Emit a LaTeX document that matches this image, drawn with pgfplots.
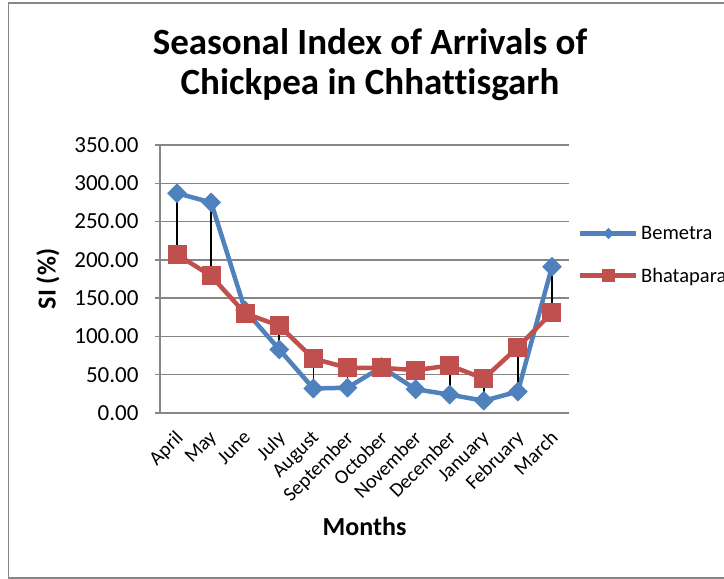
\documentclass[border=0pt]{standalone}
\usepackage{pgfplots}
\pgfplotsset{compat=1.18}
\usepackage{pgfplotstable}
\usepackage{fontspec}
\setmainfont{Carlito}[Ligatures={NoCommon}]
\definecolor{bblue}{RGB}{79,129,189}
\definecolor{bred}{RGB}{192,80,77}
\definecolor{ggrid}{RGB}{134,134,134}
\pgfplotstableread{
x B H
0 287 207
1 275 179
2 134 130
3 83 114
4 32 71
5 33 59
6 60 59
7 31 56
8 24 62
9 16 45
10 28 86
11 191 131
}\data
\begin{document}
\begin{tikzpicture}[x=1pt,y=1pt]
\clip (0,0) rectangle (724,579);
\fill[white] (0,0) rectangle (724,579);
\draw[ggrid, line width=1.5pt] (8.5,1) rectangle (760,576);
\node[font=\fontsize{37}{40}\selectfont\bfseries, align=center] at (370,514) {Seasonal Index of Arrivals of\\Chickpea in Chhattisgarh};
\begin{axis}[
  at={(160pt,166pt)}, anchor=south west,
  width=409pt, height=268pt, scale only axis,
  xmin=-0.5, xmax=11.5, ymin=0, ymax=350,
  xtick={0,...,11},
  xticklabels={April,May,June,July,August,September,October,November,December,January,February,March},
  ytick={0,50,...,350},
  axis x line*=bottom, axis y line*=left,
  axis line style={ggrid, line width=1.3pt, -},
  ymajorgrids, grid style={ggrid, line width=1.3pt},
  x tick style={draw=none},
  y tick style={ggrid, line width=1.3pt},
  tick align=outside, major tick length=5pt,
  /pgf/number format/assume math mode=true,
  yticklabel={\pgfmathprintnumber[fixed, fixed zerofill, precision=2]{\tick}},
  yticklabel style={font=\fontsize{23}{27}\selectfont, xshift=-13pt},
  xticklabel style={font=\fontsize{20}{24}\selectfont, rotate=45, anchor=north east, inner sep=1pt, yshift=-5pt, xshift=-9pt},
  xlabel={Months}, ylabel={SI (\%)},
  xlabel style={font=\fontsize{26}{30}\selectfont\bfseries, at={(axis description cs:0.5,-0.4216)}, anchor=center},
  ylabel style={font=\fontsize{26}{30}\selectfont\bfseries, at={(axis description cs:-0.274,0.5)}, anchor=center},
  legend style={at={(axis description cs:1.022,0.59)}, anchor=west, draw=none, fill=none,
    font=\fontsize{20.5}{24}\selectfont, inner sep=0pt, row sep=27pt,
    nodes={inner sep=0pt, inner xsep=2.5pt}},
  legend cell align=left,
  clip=false,
]
\addplot[bblue, line width=4.5pt, mark=square*, mark size=6.5pt,
  mark options={solid, rotate=45, line width=1pt},
  legend image code/.code={\draw[bblue, line width=4.5pt, mark=square*, mark size=3.5pt, mark options={rotate=45, line width=1pt}, mark repeat=2, mark phase=2] plot coordinates {(0pt,0pt) (28pt,0pt) (56pt,0pt)};}
  ] table[x=x, y=B] {\data};
\addlegendentry{Bemetra}
\addplot[bred, line width=4.5pt, mark=square*, mark size=9pt,
  mark options={solid, line width=1pt},
  legend image code/.code={\draw[bred, line width=4.5pt, mark=square*, mark size=6pt, mark options={line width=1pt}, mark repeat=2, mark phase=2] plot coordinates {(0pt,0pt) (28pt,0pt) (56pt,0pt)};}
  ] table[x=x, y=H] {\data};
\addlegendentry{Bhatapara}
\addplot[draw=none, no markers, forget plot,
  error bars/.cd, y dir=minus, y explicit, error mark=none,
  error bar style={draw=black, line width=1.6pt, solid}]
  table[x=x, y expr={max(\thisrow{B},\thisrow{H})}, y error minus expr={abs(\thisrow{B}-\thisrow{H})}] {\data};
\end{axis}
\end{tikzpicture}
\end{document}
